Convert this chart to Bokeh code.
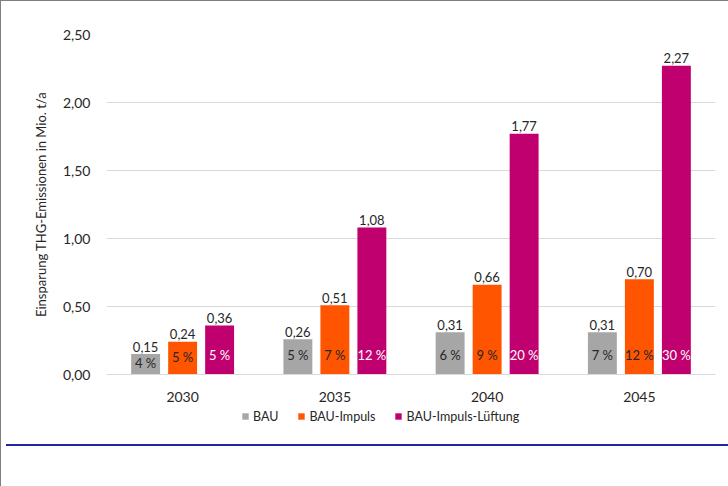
from bokeh.plotting import figure
from bokeh.models import (ColumnDataSource, FactorRange, Range1d, FixedTicker, Legend,
                          LegendItem, Div, CustomJSTickFormatter)
from bokeh.transform import dodge
from bokeh.layouts import column
from bokeh.embed import file_html
from bokeh.resources import INLINE
from bokeh.core.properties import value

years = ["2030", "2035", "2040", "2045"]
series = ["BAU", "BAU-Impuls", "BAU-Impuls-Lüftung"]
bau = [0.15, 0.26, 0.31, 0.31]
impuls = [0.24, 0.51, 0.66, 0.70]
lueftung = [0.36, 1.08, 1.77, 2.27]
bau_pct = ["4 %", "5 %", "6 %", "7 %"]
impuls_pct = ["5 %", "7 %", "9 %", "12 %"]
lueftung_pct = ["5 %", "12 %", "20 %", "30 %"]
y_ticks = [0, 0.5, 1.0, 1.5, 2.0, 2.5]
y_title = "Einsparung THG-Emissionen in Mio. t/a"

colors = ["#a6a6a6", "#ff5500", "#c0006e"]
pct_colors = ["#262626", "#262626", "#ffffff"]
offsets = [-0.243, 0.0, 0.243]
FONT = "Lato"
TXT = "#262626"

x_range = FactorRange(*years, range_padding=0)
p = figure(x_range=x_range, y_range=Range1d(0, 2.5),
           frame_width=609, frame_height=340, output_backend="svg", toolbar_location=None,
           min_border_left=105, min_border_right=10, min_border_top=33, min_border_bottom=31)
p.outline_line_color = None
p.xgrid.grid_line_color = None
p.ygrid.grid_line_color = "#d9d9d9"
p.ygrid.grid_line_width = 1
p.yaxis.ticker = FixedTicker(ticks=y_ticks)
p.yaxis.formatter = CustomJSTickFormatter(code="return tick.toFixed(2).replace('.', ',');")
p.yaxis.axis_line_color = None
p.yaxis.major_tick_line_color = None
p.yaxis.minor_tick_line_color = None
p.yaxis.major_label_standoff = 10
p.yaxis.major_label_text_font = FONT
p.yaxis.major_label_text_font_size = "14px"
p.yaxis.major_label_text_color = TXT
p.yaxis.axis_label = y_title
p.yaxis.axis_label_text_font = FONT
p.yaxis.axis_label_text_font_style = "normal"
p.yaxis.axis_label_text_font_size = "13px"
p.yaxis.axis_label_text_color = TXT
p.yaxis.axis_label_standoff = 11

p.xaxis.axis_line_color = "#d9d9d9"
p.xaxis.major_tick_line_color = None
p.xaxis.minor_tick_line_color = None
p.xaxis.major_label_standoff = 11
p.xaxis.major_label_text_font = FONT
p.xaxis.major_label_text_font_size = "14px"
p.xaxis.major_label_text_color = TXT

# strip below the chart that carries the legend (its bars lie outside its view)
pl = figure(x_range=x_range, y_range=Range1d(10, 11), frame_width=609, height=34,
            output_backend="svg", toolbar_location=None,
            min_border_left=105, min_border_right=10, min_border_top=0, min_border_bottom=0)
pl.axis.visible = False
pl.grid.visible = False
pl.outline_line_color = None

items = []
for vals, pcts, name, col, pcol, off in zip([bau, impuls, lueftung],
                                            [bau_pct, impuls_pct, lueftung_pct],
                                            series, colors, pct_colors, offsets):
    src = ColumnDataSource(dict(
        x=years, top=vals,
        label=[f"{v:.2f}".replace(".", ",") for v in vals],
        pct=pcts,
        pct_y=[min(v * 0.55, 0.14) for v in vals],
    ))
    xd = dodge("x", off, range=x_range)
    p.vbar(x=xd, top="top", bottom=0, width=0.19, source=src,
           fill_color=col, line_color=None)
    p.text(x=xd, y=dodge("top", 0.055), text="label", source=src, text_align="center",
           text_baseline="alphabetic", text_font=value(FONT),
           text_font_size="13px", text_color=TXT)
    p.text(x=xd, y="pct_y", text="pct", source=src, text_align="center",
           text_baseline="middle", text_font=value(FONT),
           text_font_size="13px", text_color=pcol)
    lr = pl.vbar(x=xd, top="top", bottom=0, width=0.19, source=src,
                 fill_color=col, line_color=None)
    items.append(LegendItem(label=name, renderers=[lr]))

legend = Legend(items=items, orientation="horizontal", location=(135, 15),
                border_line_color=None, background_fill_alpha=0,
                glyph_width=8, glyph_height=8, label_height=16, label_standoff=4,
                spacing=19, padding=0, margin=0, label_text_font=FONT,
                label_text_font_size="12.5px", label_text_color=TXT)
pl.add_layout(legend)

line = Div(text="", width=724, height=44,
           styles={"border-top": "2px solid #1c2aa0", "box-sizing": "border-box"})
layout = column(p, pl, line, spacing=0,
                styles={"border": "1px solid #7f7f7f"})

open("out.html", "w").write(file_html(layout, INLINE))
